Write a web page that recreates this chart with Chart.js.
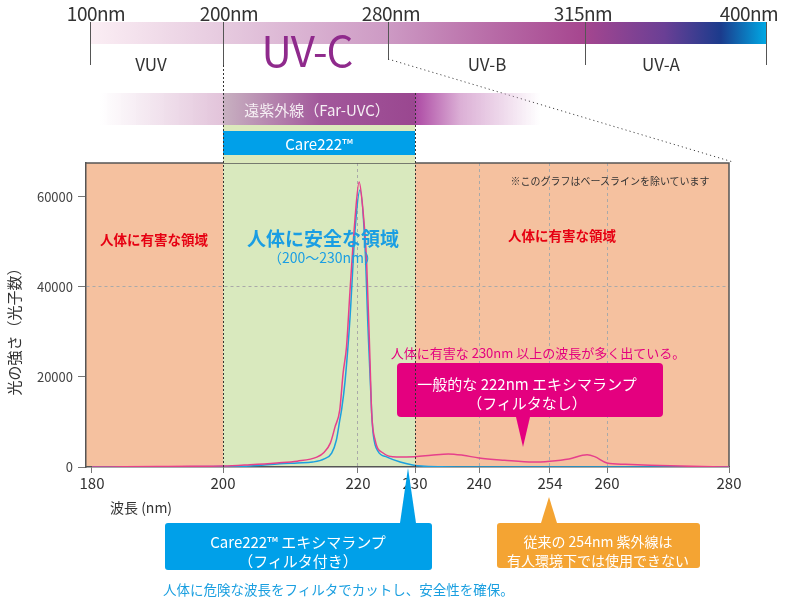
<!DOCTYPE html>
<html lang="ja">
<head>
<meta charset="utf-8">
<title>Care222 spectrum</title>
<script src="https://cdn.jsdelivr.net/npm/chart.js@4.4.1/dist/chart.umd.min.js"></script>
<style>
  html, body { margin: 0; padding: 0; background: #fff; }
  body { width: 800px; height: 601px; overflow: hidden; font-family: "Noto Sans CJK JP", "Noto Sans", sans-serif; color: #333; }
  #wrap { position: relative; width: 800px; height: 601px; }
  #chart-box { position: absolute; left: 0; top: 0; width: 800px; height: 601px; }
  .abs { position: absolute; white-space: nowrap; line-height: 1; }
  .cc { transform: translate(-50%, -50%); }
  .lc { transform: translateY(-50%); }
  .nm { font-size: 19px; letter-spacing: -0.5px; color: #333; }
  .band { font-size: 17px; color: #333; }
  .vtick { position: absolute; width: 1px; background: #555; }
  .dots { position: absolute; width: 1px; background: repeating-linear-gradient(to bottom, #333 0 2px, transparent 2px 4px); z-index: 5; }
  .box { position: absolute; border-radius: 3px; }
  .white { color: #fff; }
  .tri-down { position: absolute; width: 0; height: 0; border-left: 7.5px solid transparent; border-right: 7.5px solid transparent; }
  .tri-up { position: absolute; width: 0; height: 0; border-left: 8px solid transparent; border-right: 8px solid transparent; }
</style>
</head>
<body>
<div id="wrap">
  <div id="chart-box"><canvas id="spectrum-chart"></canvas></div>

  <!-- UV spectrum header -->
  <div class="abs" style="left:90px;top:22px;width:676px;height:22px;background:linear-gradient(to right,#fbeef4 0%,#e6cadf 19.7%,#cd9ac4 44%,#b76aa6 60%,#a6468f 73%,#6a3f95 85%,#1b3b8c 93.3%,#00a8e4 100%);"></div>
  <div class="vtick" style="left:90px;top:22px;height:43px;"></div>
  <div class="vtick" style="left:223px;top:22px;height:43px;"></div>
  <div class="vtick" style="left:388px;top:22px;height:38px;"></div>
  <div class="vtick" style="left:585px;top:22px;height:43px;"></div>
  <div class="vtick" style="left:766px;top:22px;height:43px;"></div>
  <div class="abs cc nm" style="left:96px;top:12px;">100nm</div>
  <div class="abs cc nm" style="left:229px;top:12px;">200nm</div>
  <div class="abs cc nm" style="left:391px;top:12px;">280nm</div>
  <div class="abs cc nm" style="left:583px;top:12px;">315nm</div>
  <div class="abs cc nm" style="left:749px;top:12px;">400nm</div>
  <div class="abs cc band" style="left:151px;top:63px;">VUV</div>
  <div class="abs cc" style="left:307px;top:49px;font-size:42px;color:#8f2a8c;letter-spacing:-1px;">UV-C</div>
  <div class="abs cc band" style="left:487px;top:63px;">UV-B</div>
  <div class="abs cc band" style="left:661px;top:63px;">UV-A</div>
  <svg class="abs" style="left:0;top:0;" width="800" height="601">
    <line x1="388" y1="59" x2="733" y2="162" stroke="#444" stroke-width="1" stroke-dasharray="1.2 3"/>
  </svg>

  <!-- Far-UVC band and Care222 bar -->
  <div class="abs" style="left:100px;top:93px;width:440px;height:32px;background:linear-gradient(to right,rgba(230,200,222,0) 0%,#e2c3da 28%,#c8b1c1 28%,#a2589b 50%,#9a4790 71.6%,#ad4aa4 71.6%,#dcb0d6 82%,rgba(255,255,255,0) 100%);"></div>
  <div class="abs cc" style="left:317px;top:109px;font-size:15px;color:#f5eef3;">遠紫外線（Far-UVC）</div>
  <div class="abs" style="left:223px;top:125px;width:192px;height:38px;background:#dce9bc;"></div>
  <div class="abs" style="left:223px;top:131px;width:192px;height:24px;background:#00a0e9;"></div>
  <div class="abs cc white" style="left:319px;top:143px;font-size:15px;">Care222™</div>

  <!-- axis titles -->
  <div class="abs cc" style="left:13px;top:328px;font-size:15px;color:#333;transform:translate(-50%,-50%) rotate(-90deg);">光の強さ（光子数）</div>
  <div class="abs lc" style="left:110px;top:507px;font-size:14px;color:#333;">波長 (nm)</div>

  <!-- texts inside the plot -->
  <div class="abs cc" style="left:610px;top:181px;font-size:10px;color:#333;">※このグラフはベースラインを除いています</div>
  <div class="abs cc" style="left:154px;top:240px;font-size:13.5px;font-weight:bold;color:#e60012;">人体に有害な領域</div>
  <div class="abs cc" style="left:562px;top:236px;font-size:13.5px;font-weight:bold;color:#e60012;">人体に有害な領域</div>
  <div class="abs cc" style="left:323px;top:237px;font-size:19px;font-weight:bold;color:#1a9ee3;">人体に安全な領域</div>
  <div class="abs cc" style="left:323px;top:257px;font-size:14px;color:#1a9ee3;">（200～230nm）</div>
  <div class="abs cc" style="left:538px;top:352px;font-size:13px;color:#e4007f;">人体に有害な 230nm 以上の波長が多く出ている。</div>

  <!-- callouts -->
  <div class="box" style="left:397px;top:363px;width:266px;height:54px;background:#e4007f;border-radius:4px;"></div>
  <div class="tri-down" style="left:516px;top:417px;border-top:30px solid #e4007f;"></div>
  <div class="abs cc white" style="left:527px;top:383px;font-size:15px;">一般的な 222nm エキシマランプ</div>
  <div class="abs cc white" style="left:527px;top:402px;font-size:15px;">（フィルタなし）</div>

  <div class="box" style="left:165px;top:523px;width:267px;height:47px;background:#00a0e9;"></div>
  <div class="tri-up" style="left:400px;top:468px;border-bottom:55px solid #00a0e9;"></div>
  <div class="abs cc white" style="left:298px;top:541px;font-size:15px;">Care222™ エキシマランプ</div>
  <div class="abs cc white" style="left:298px;top:560px;font-size:15px;">（フィルタ付き）</div>

  <div class="box" style="left:497px;top:523px;width:203px;height:45px;background:#f4a433;"></div>
  <div class="tri-up" style="left:541px;top:497px;border-bottom:26px solid #f4a433;"></div>
  <div class="abs cc white" style="left:598px;top:541px;font-size:14px;">従来の 254nm 紫外線は</div>
  <div class="abs cc white" style="left:598px;top:560px;font-size:14px;">有人環境下では使用できない</div>

  <div class="abs lc" style="left:163px;top:590px;font-size:13.5px;color:#1a9fe0;">人体に危険な波長をフィルタでカットし、安全性を確保。</div>

  <div id="line200a" class="vtick"></div>
  <div id="line200" class="dots"></div>
  <div id="line230" class="dots"></div>
</div>

<script>
// --- data (wavelength in nm, intensity in photons) ---
const wavelengthsNoFilter = [180, 185, 190, 195, 200, 204, 208, 211, 213.9, 215, 215.9, 216.6, 217.3, 217.8, 218.3, 218.8, 219.5, 220.2, 220.8, 221.5, 222.1, 222.4, 223, 224.4, 226.8, 230, 232.5, 235.2, 237.5, 240, 245, 250.7, 254, 256, 257.9, 258.7, 260, 263, 267, 272, 280];
const intensityNoFilter   = [0, 50, 100, 150, 200, 500, 900, 1300, 2200, 3300, 5300, 8900, 12700, 20900, 26700, 38700, 54000, 63300, 58000, 46000, 23800, 12000, 6000, 3100, 2200, 2300, 2600, 2900, 2600, 2000, 1500, 1100, 1300, 1800, 2700, 2300, 900, 600, 400, 200, 0];

const wavelengthsFilter = [180, 190, 200, 204, 208.4, 211, 213.3, 215, 216.1, 216.8, 217.3, 217.6, 218.1, 218.8, 219.6, 220.35, 221.2, 221.75, 222.4, 222.7, 223.5, 225.1, 227.4, 229.6, 231, 234, 240, 260, 280];
const intensityFilter   = [0, 50, 100, 200, 700, 900, 1100, 1800, 3100, 6000, 10400, 13000, 19300, 32700, 53300, 61500, 49800, 31100, 12000, 7000, 3500, 2200, 1100, 450, 200, 50, 0, 0, 0];

const xTickValues = [180, 200, 220, 230, 240, 254, 260, 280];
const yTickValues = [0, 20000, 40000, 60000];
const zoneBounds = [179, 200, 230, 280]; // harmful | safe | harmful

// the reference axis is not evenly spaced, so map nm -> fraction of the axis piece by piece
const axisBreaks = {
    values:    [179, 180, 200, 220, 230, 240, 254, 260, 280],
    fractions: [0, 0.0093, 0.2131, 0.4230, 0.5117, 0.6112, 0.7216, 0.8103, 1]
};

function toFraction(v) {
    const vs = axisBreaks.values, fs = axisBreaks.fractions;
    if (v <= vs[0]) return fs[0];
    for (let i = 1; i < vs.length; i++) {
        if (v <= vs[i]) return fs[i - 1] + (v - vs[i - 1]) / (vs[i] - vs[i - 1]) * (fs[i] - fs[i - 1]);
    }
    return fs[fs.length - 1];
}
function fromFraction(f) {
    const vs = axisBreaks.values, fs = axisBreaks.fractions;
    for (let i = 1; i < fs.length; i++) {
        if (f <= fs[i]) return vs[i - 1] + (f - fs[i - 1]) / (fs[i] - fs[i - 1]) * (vs[i] - vs[i - 1]);
    }
    return vs[vs.length - 1];
}

class PiecewiseScale extends Chart.LinearScale {
    getPixelForValue(value) {
        return value === null ? NaN : this.getPixelForDecimal(toFraction(value));
    }
    getValueForPixel(pixel) {
        return fromFraction(this.getDecimalForPixel(pixel));
    }
}
PiecewiseScale.id = 'piecewise';
PiecewiseScale.defaults = Chart.LinearScale.defaults;
Chart.register(PiecewiseScale);

const FONT = '"Noto Sans CJK JP", "Noto Sans", sans-serif';

const zonePlugin = {
    id: 'zones',
    beforeDraw(chart) {
        const { ctx, chartArea: a, scales: { x } } = chart;
        const colors = ['#f5c19f', '#d9e9be', '#f5c19f'];
        ctx.save();
        for (let i = 0; i < zoneBounds.length - 1; i++) {
            const x0 = x.getPixelForValue(zoneBounds[i]);
            const x1 = x.getPixelForValue(zoneBounds[i + 1]);
            ctx.fillStyle = colors[i];
            ctx.fillRect(x0, a.top, x1 - x0, a.bottom - a.top);
        }
        ctx.restore();
    },
    beforeDatasetsDraw(chart) {
        const { ctx, chartArea: a } = chart;
        ctx.save();
        ctx.strokeStyle = '#555';
        ctx.lineWidth = 1.5;
        ctx.beginPath();
        ctx.moveTo(a.left, a.top);
        ctx.lineTo(a.right, a.top);
        ctx.lineTo(a.right, a.bottom);
        ctx.stroke();
        ctx.restore();
    }
};

function toPoints(xs, ys) {
    return xs.map((x, i) => ({ x, y: ys[i] }));
}

const chart = new Chart('spectrum-chart', {
    type: 'line',
    data: {
        datasets: [
            {
                label: '一般的な 222nm エキシマランプ',
                data: toPoints(wavelengthsNoFilter, intensityNoFilter),
                borderColor: '#e6408b',
                borderWidth: 1.5,
                pointRadius: 0,
                cubicInterpolationMode: 'monotone'
            },
            {
                label: 'Care222 エキシマランプ',
                data: toPoints(wavelengthsFilter, intensityFilter),
                borderColor: '#1ca0de',
                borderWidth: 1.5,
                pointRadius: 0,
                cubicInterpolationMode: 'monotone'
            }
        ]
    },
    options: {
        responsive: true,
        maintainAspectRatio: false,
        animation: false,
        layout: { padding: { left: 0, top: 163, right: 71, bottom: 104 } },
        plugins: {
            legend: { display: false },
            tooltip: { enabled: false }
        },
        scales: {
            x: {
                type: 'piecewise',
                min: 179,
                max: 280,
                afterBuildTicks: s => { s.ticks = xTickValues.map(v => ({ value: v })); },
                afterFit: s => { s.height = 30; },
                grid: {
                    color: c => [220, 240, 254, 260].includes(c.tick && c.tick.value) ? '#a9a9a9' : 'rgba(0,0,0,0)',
                    tickColor: '#777',
                    tickLength: 6,
                    lineWidth: 1
                },
                border: { color: '#555', width: 1.5, dash: [3, 3] },
                ticks: {
                    color: '#333',
                    font: { family: FONT, size: 15 },
                    padding: 1,
                    maxRotation: 0,
                    autoSkip: false,
                    callback: v => String(v)
                }
            },
            y: {
                min: 0,
                max: 67500,
                afterBuildTicks: s => { s.ticks = yTickValues.map(v => ({ value: v })); },
                afterFit: s => { s.width = 86; },
                grid: {
                    color: c => (c.tick && c.tick.value === 40000) ? '#a9a9a9' : 'rgba(0,0,0,0)',
                    tickColor: '#777',
                    tickLength: 8,
                    lineWidth: 1
                },
                border: { color: '#555', width: 1.5, dash: [3, 3] },
                ticks: {
                    color: '#444',
                    font: { family: FONT, size: 13 },
                    padding: 5,
                    callback: v => String(v)
                }
            }
        }
    },
    plugins: [zonePlugin]
});

// boundary lines for 200nm / 230nm run from the header down through the plot
function place(id, left, top, bottom) {
    const el = document.getElementById(id);
    el.style.left = Math.round(left) + 'px';
    el.style.top = top + 'px';
    el.style.height = (bottom - top) + 'px';
}
const area = chart.chartArea;
const xScale = chart.scales.x;
place('line200a', xScale.getPixelForValue(200), 22, 65);
place('line200', xScale.getPixelForValue(200), 65, area.bottom);
place('line230', xScale.getPixelForValue(230), 93, area.bottom);
</script>
</body>
</html>
